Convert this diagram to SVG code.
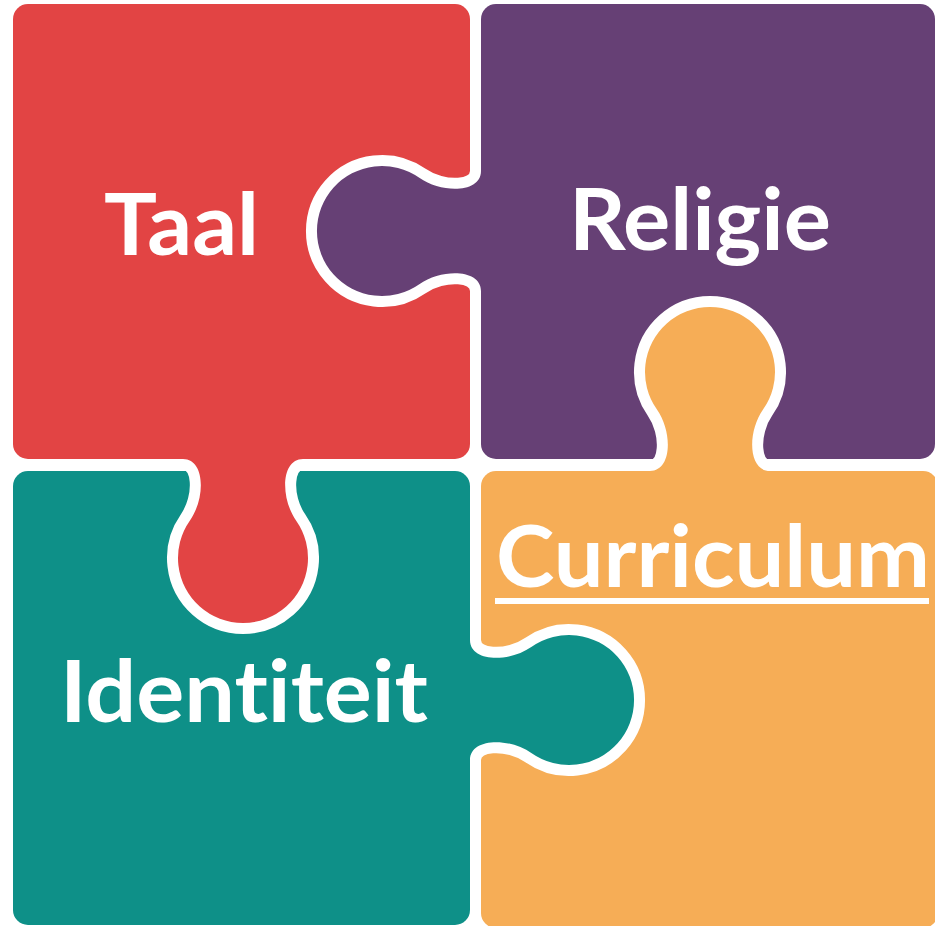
<svg xmlns="http://www.w3.org/2000/svg" xmlns:xlink="http://www.w3.org/1999/xlink" width="935" height="926" viewBox="0 0 935 926">
  <style>
    .red { fill: #E24444; }
    .purple { fill: #664075; }
    .teal { fill: #0E9088; }
    .orange { fill: #F6AD56; }
    .outline { fill: none; stroke: #FFFFFF; stroke-width: 22; }
    .label { font-family: Lato, "Open Sans", "Liberation Sans", sans-serif; font-weight: 700; font-size: 86px; fill: #FFFFFF; font-variant-ligatures: none; font-feature-settings: "liga" 0, "clig" 0, "dlig" 0; }
  </style>
  <defs>
    <path id="tabFill" d="M -25,-60 L 0,-60 C 0,-38 38.8,-37.1 61.7,-53.2 A 65 65 0 1 1 61.7 53.2 C 38.8,37.1 0,38 0,60 L -25,60 Z"/>
    <path id="tabLine" d="M 0,-100 L 0,-60 C 0,-38 38.8,-37.1 61.7,-53.2 A 65 65 0 1 1 61.7 53.2 C 38.8,37.1 0,38 0,60 L 0,100"/>
    <clipPath id="half" clipPathUnits="userSpaceOnUse">
      <rect x="0" y="-200" width="300" height="400"/>
    </clipPath>
  </defs>
  <rect x="0" y="0" width="935" height="926" fill="#FFFFFF"/>

  <g id="bodies">
    <rect class="red" x="13" y="4" width="457" height="455" rx="15"/>
    <rect class="purple" x="481" y="4" width="454" height="455" rx="15"/>
    <rect class="teal" x="13" y="471" width="457" height="454" rx="15"/>
    <rect class="orange" x="481" y="471" width="457" height="457" rx="15"/>
  </g>

  <g id="purple-piece">
    <g transform="translate(481,231) rotate(180)">
      <use xlink:href="#tabLine" class="outline" clip-path="url(#half)"/>
      <use xlink:href="#tabFill" class="purple"/>
    </g>
    <text class="label" x="569" y="250" textLength="262" lengthAdjust="spacingAndGlyphs">Religie</text>
  </g>

  <g id="orange-piece">
    <g transform="translate(710,471) rotate(-90)">
      <use xlink:href="#tabLine" class="outline" clip-path="url(#half)"/>
      <use xlink:href="#tabFill" class="orange"/>
    </g>
    <text class="label" x="496" y="587" textLength="434" lengthAdjust="spacingAndGlyphs">Curriculum</text>
    <rect x="495" y="598" width="434" height="6" fill="#FFFFFF"/>
  </g>

  <g id="red-piece">
    <g transform="translate(243,459) rotate(90)">
      <use xlink:href="#tabLine" class="outline" clip-path="url(#half)"/>
      <use xlink:href="#tabFill" class="red"/>
    </g>
    <text class="label" x="104" y="255" textLength="155" lengthAdjust="spacingAndGlyphs">Taal</text>
  </g>

  <g id="teal-piece">
    <g transform="translate(470,700)">
      <use xlink:href="#tabLine" class="outline" clip-path="url(#half)"/>
      <use xlink:href="#tabFill" class="teal"/>
    </g>
    <text class="label" x="60" y="722" textLength="368" lengthAdjust="spacingAndGlyphs">Identiteit</text>
  </g>

  <g id="connectors"></g>
</svg>
